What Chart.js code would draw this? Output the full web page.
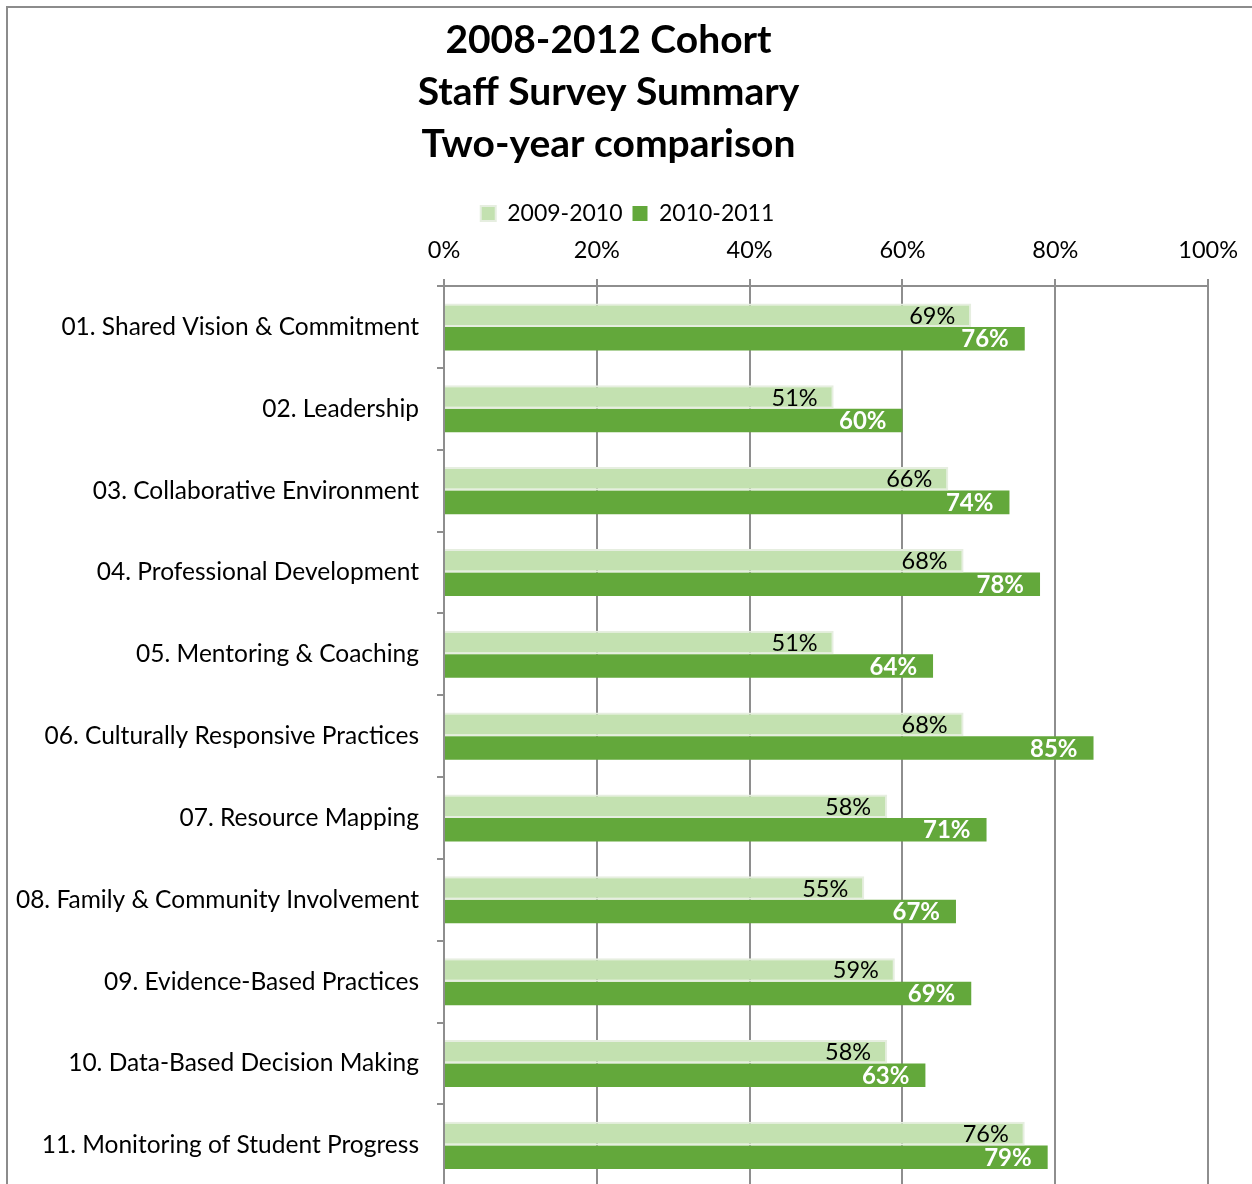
<!DOCTYPE html>
<html>
<head>
<meta charset="utf-8">
<script src="https://cdn.jsdelivr.net/npm/chart.js@4/dist/chart.umd.min.js"></script>
<style>
  html, body { margin: 0; padding: 0; background: #fff; overflow: hidden; }
  #wrap { position: relative; width: 1252px; height: 1219px; }
</style>
</head>
<body>
<div id="wrap"><canvas id="c" width="1252" height="1219"></canvas></div>
<script>
// Survey domains (one bar pair per domain)
const categories = [
  '01. Shared Vision & Commitment',
  '02. Leadership',
  '03. Collaborative Environment',
  '04. Professional Development',
  '05. Mentoring & Coaching',
  '06. Culturally Responsive Practices',
  '07. Resource Mapping',
  '08. Family & Community Involvement',
  '09. Evidence-Based Practices',
  '10. Data-Based Decision Making',
  '11. Monitoring of Student Progress'
];
const seriesNames = ['2009-2010', '2010-2011'];
// Percent of staff, per domain
const values0910 = [69, 51, 66, 68, 51, 68, 58, 55, 59, 58, 76];
const values1011 = [76, 60, 74, 78, 64, 85, 71, 67, 69, 63, 79];
const tickValues = [0, 20, 40, 60, 80, 100];
const titleLines = ['2008-2012 Cohort', 'Staff Survey Summary', 'Two-year comparison'];

const FONT = 'Lato, "Open Sans", sans-serif';
const GRID = '#8e8e8e';
const LIGHT = '#c3e1b0';
const DARK = '#63a83b';

// White background plus the frame around the whole chart
const framePlugin = {
  id: 'frame',
  beforeDraw(chart) {
    const ctx = chart.ctx;
    ctx.save();
    ctx.fillStyle = '#fff';
    ctx.fillRect(0, 0, chart.width, chart.height);
    ctx.strokeStyle = '#8c8c8c';
    ctx.lineWidth = 2;
    ctx.strokeRect(7, 7, chart.width + 20, chart.height + 20);
    ctx.restore();
  }
};

// Nudge the legend a little to the right of the title's centre line
const legendShift = {
  id: 'legendShift',
  afterUpdate(chart) {
    if (chart.legend) {
      chart.legend.left += 19;
      chart.legend.right += 19;
    }
  }
};

// Value labels written just inside the end of each bar
const valueLabels = {
  id: 'valueLabels',
  afterDatasetsDraw(chart) {
    const ctx = chart.ctx;
    ctx.save();
    ctx.textAlign = 'right';
    ctx.textBaseline = 'middle';
    chart.data.datasets.forEach((ds, di) => {
      const meta = chart.getDatasetMeta(di);
      ctx.font = di === 1 ? 'bold 24px ' + FONT : '23.5px ' + FONT;
      ctx.fillStyle = di === 1 ? '#ffffff' : '#000000';
      meta.data.forEach((bar, i) => {
        ctx.fillText(ds.data[i] + '%', bar.x - 16, bar.y + 1);
      });
    });
    ctx.restore();
  }
};

new Chart(document.getElementById('c'), {
  type: 'bar',
  data: {
    labels: categories,
    datasets: [
      {
        label: seriesNames[0],
        data: values0910,
        backgroundColor: LIGHT,
        borderColor: '#e6eee0',
        borderWidth: 2,
        borderSkipped: 'start'
      },
      {
        label: seriesNames[1],
        data: values1011,
        backgroundColor: DARK,
        borderColor: DARK,
        borderWidth: 0
      }
    ]
  },
  options: {
    indexAxis: 'y',
    responsive: false,
    devicePixelRatio: 1,
    animation: false,
    categoryPercentage: 0.575,
    barPercentage: 1.0,
    layout: { padding: { left: 8, right: 43, top: 0, bottom: 13 } },
    plugins: {
      title: {
        display: true,
        text: titleLines,
        color: '#000',
        font: { family: FONT, size: 39, weight: 'bold', lineHeight: 52 / 39 },
        padding: { top: 14, bottom: 22 }
      },
      legend: {
        display: true,
        position: 'top',
        labels: {
          color: '#000',
          font: { family: FONT, size: 23 },
          boxWidth: 15,
          boxHeight: 15,
          padding: 10
        }
      },
      tooltip: { enabled: false }
    },
    scales: {
      x: {
        position: 'top',
        min: 0,
        max: 100,
        afterBuildTicks(scale) {
          scale.ticks = tickValues.map(v => ({ value: v }));
        },
        afterFit(scale) { scale.height = 51; },
        ticks: {
          color: '#000',
          font: { family: FONT, size: 23.5 },
          padding: 14,
          callback: v => v + '%'
        },
        grid: { color: GRID, lineWidth: 2, tickLength: 7, drawTicks: true },
        border: { color: GRID, width: 2 }
      },
      y: {
        afterFit(scale) { scale.width = 436; },
        ticks: {
          color: '#000',
          font: { family: FONT, size: 24.5 },
          padding: 18
        },
        grid: { drawOnChartArea: false, color: GRID, lineWidth: 2, tickLength: 7 },
        border: { color: GRID, width: 2 }
      }
    }
  },
  plugins: [framePlugin, legendShift, valueLabels]
});
</script>
</body>
</html>
